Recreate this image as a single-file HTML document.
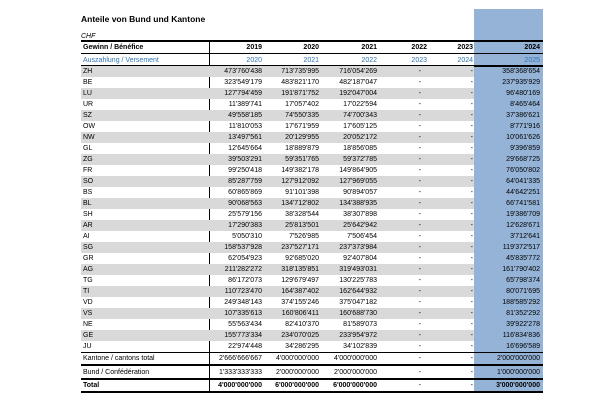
<!DOCTYPE html>
<html><head><meta charset="utf-8"><style>
body{margin:0;width:606px;height:402px;background:#fff;position:relative;overflow:hidden;font-family:"Liberation Sans",Arial,sans-serif;font-size:7px;color:#000}
.abs{position:absolute}
.blue{position:absolute;left:474px;top:9px;width:69px;height:383px;background:#95b3d7}
.r{position:absolute;left:81px;width:462px;height:11px;line-height:11px;display:flex}
.r.g{background:linear-gradient(to right,#d9d9d9 0,#d9d9d9 393px,transparent 393px)}
.r div{box-sizing:border-box;white-space:nowrap}
.c0{width:128px;padding-left:2px}
.c1{width:56px;text-align:right;padding-right:3px}
.c2{width:57px;text-align:right;padding-right:3px}
.c3{width:58px;text-align:right;padding-right:3px}
.c4{width:50px;text-align:right;padding-right:9px}
.c5{width:44px;text-align:right;padding-right:1px}
.c6{width:69px;text-align:right;padding-right:3px}
.hl{position:absolute;left:81px;width:462px;background:#000}
.bl{color:#2f75b5}
.b{font-weight:bold}
</style></head><body>
<div class="blue"></div>
<div class="abs b" style="left:81px;top:14px;font-size:8.5px">Anteile von Bund und Kantone</div>
<div class="abs" style="left:81px;top:33px;font-style:italic">CHF</div>
<div class="hl" style="top:40px;height:2px"></div>
<div class="r b" style="top:42px"><div class="c0">Gewinn / Bénéfice</div><div class="c1">2019</div><div class="c2">2020</div><div class="c3">2021</div><div class="c4" style="padding-right:3px">2022</div><div class="c5">2023</div><div class="c6">2024</div></div>
<div class="hl" style="top:53px;height:1px"></div>
<div class="r bl" style="top:55px"><div class="c0">Auszahlung / Versement</div><div class="c1">2020</div><div class="c2">2021</div><div class="c3">2022</div><div class="c4" style="padding-right:3px">2023</div><div class="c5">2024</div><div class="c6">2025</div></div>
<div class="hl" style="top:65px;height:1.5px"></div>
<div class="abs" style="left:209px;top:40px;width:1px;height:352px;background:#000"></div>
<div class="hl" style="top:352px;height:1px"></div>
<div class="r" style="top:353px"><div class="c0">Kantone / cantons total</div><div class="c1">2'666'666'667</div><div class="c2">4'000'000'000</div><div class="c3">4'000'000'000</div><div class="c4">-</div><div class="c5">-</div><div class="c6">2'000'000'000</div></div>
<div class="hl" style="top:364px;height:1.5px"></div>
<div class="r" style="top:367px"><div class="c0">Bund / Confédération</div><div class="c1">1'333'333'333</div><div class="c2">2'000'000'000</div><div class="c3">2'000'000'000</div><div class="c4">-</div><div class="c5">-</div><div class="c6">1'000'000'000</div></div>
<div class="hl" style="top:378px;height:1.5px"></div>
<div class="r b" style="top:380px"><div class="c0">Total</div><div class="c1">4'000'000'000</div><div class="c2">6'000'000'000</div><div class="c3">6'000'000'000</div><div class="c4" style="font-weight:normal">-</div><div class="c5" style="font-weight:normal">-</div><div class="c6">3'000'000'000</div></div>
<div class="hl" style="top:391px;height:2px"></div>

<div class="r g" style="top:66px"><div class="c0">ZH</div><div class="c1">473'760'438</div><div class="c2">713'735'995</div><div class="c3">716'054'269</div><div class="c4">-</div><div class="c5">-</div><div class="c6">358'368'654</div></div>
<div class="r" style="top:77px"><div class="c0">BE</div><div class="c1">323'549'179</div><div class="c2">483'821'170</div><div class="c3">482'187'047</div><div class="c4">-</div><div class="c5">-</div><div class="c6">237'935'929</div></div>
<div class="r g" style="top:88px"><div class="c0">LU</div><div class="c1">127'794'459</div><div class="c2">191'871'752</div><div class="c3">192'047'004</div><div class="c4">-</div><div class="c5">-</div><div class="c6">96'480'169</div></div>
<div class="r" style="top:99px"><div class="c0">UR</div><div class="c1">11'389'741</div><div class="c2">17'057'402</div><div class="c3">17'022'594</div><div class="c4">-</div><div class="c5">-</div><div class="c6">8'465'464</div></div>
<div class="r g" style="top:110px"><div class="c0">SZ</div><div class="c1">49'558'185</div><div class="c2">74'550'335</div><div class="c3">74'700'343</div><div class="c4">-</div><div class="c5">-</div><div class="c6">37'386'621</div></div>
<div class="r" style="top:121px"><div class="c0">OW</div><div class="c1">11'810'053</div><div class="c2">17'671'959</div><div class="c3">17'605'125</div><div class="c4">-</div><div class="c5">-</div><div class="c6">8'771'916</div></div>
<div class="r g" style="top:132px"><div class="c0">NW</div><div class="c1">13'497'561</div><div class="c2">20'129'955</div><div class="c3">20'052'172</div><div class="c4">-</div><div class="c5">-</div><div class="c6">10'061'626</div></div>
<div class="r" style="top:143px"><div class="c0">GL</div><div class="c1">12'645'664</div><div class="c2">18'889'879</div><div class="c3">18'856'085</div><div class="c4">-</div><div class="c5">-</div><div class="c6">9'396'859</div></div>
<div class="r g" style="top:154px"><div class="c0">ZG</div><div class="c1">39'503'291</div><div class="c2">59'351'765</div><div class="c3">59'372'785</div><div class="c4">-</div><div class="c5">-</div><div class="c6">29'668'725</div></div>
<div class="r" style="top:165px"><div class="c0">FR</div><div class="c1">99'250'418</div><div class="c2">149'382'178</div><div class="c3">149'864'905</div><div class="c4">-</div><div class="c5">-</div><div class="c6">76'050'802</div></div>
<div class="r g" style="top:176px"><div class="c0">SO</div><div class="c1">85'287'759</div><div class="c2">127'912'092</div><div class="c3">127'969'055</div><div class="c4">-</div><div class="c5">-</div><div class="c6">64'041'335</div></div>
<div class="r" style="top:187px"><div class="c0">BS</div><div class="c1">60'865'869</div><div class="c2">91'101'398</div><div class="c3">90'894'057</div><div class="c4">-</div><div class="c5">-</div><div class="c6">44'642'251</div></div>
<div class="r g" style="top:198px"><div class="c0">BL</div><div class="c1">90'068'563</div><div class="c2">134'712'802</div><div class="c3">134'388'935</div><div class="c4">-</div><div class="c5">-</div><div class="c6">66'741'581</div></div>
<div class="r" style="top:209px"><div class="c0">SH</div><div class="c1">25'579'156</div><div class="c2">38'328'544</div><div class="c3">38'307'898</div><div class="c4">-</div><div class="c5">-</div><div class="c6">19'386'709</div></div>
<div class="r g" style="top:220px"><div class="c0">AR</div><div class="c1">17'290'383</div><div class="c2">25'813'501</div><div class="c3">25'642'942</div><div class="c4">-</div><div class="c5">-</div><div class="c6">12'628'671</div></div>
<div class="r" style="top:231px"><div class="c0">AI</div><div class="c1">5'050'310</div><div class="c2">7'526'985</div><div class="c3">7'506'454</div><div class="c4">-</div><div class="c5">-</div><div class="c6">3'712'641</div></div>
<div class="r g" style="top:242px"><div class="c0">SG</div><div class="c1">158'537'928</div><div class="c2">237'527'171</div><div class="c3">237'373'984</div><div class="c4">-</div><div class="c5">-</div><div class="c6">119'372'517</div></div>
<div class="r" style="top:253px"><div class="c0">GR</div><div class="c1">62'054'923</div><div class="c2">92'685'020</div><div class="c3">92'407'804</div><div class="c4">-</div><div class="c5">-</div><div class="c6">45'835'772</div></div>
<div class="r g" style="top:264px"><div class="c0">AG</div><div class="c1">211'282'272</div><div class="c2">318'135'851</div><div class="c3">319'493'031</div><div class="c4">-</div><div class="c5">-</div><div class="c6">161'790'402</div></div>
<div class="r" style="top:275px"><div class="c0">TG</div><div class="c1">86'172'073</div><div class="c2">129'679'497</div><div class="c3">130'225'783</div><div class="c4">-</div><div class="c5">-</div><div class="c6">65'798'374</div></div>
<div class="r g" style="top:286px"><div class="c0">TI</div><div class="c1">110'723'470</div><div class="c2">164'387'402</div><div class="c3">162'644'932</div><div class="c4">-</div><div class="c5">-</div><div class="c6">80'071'695</div></div>
<div class="r" style="top:297px"><div class="c0">VD</div><div class="c1">249'348'143</div><div class="c2">374'155'246</div><div class="c3">375'047'182</div><div class="c4">-</div><div class="c5">-</div><div class="c6">188'585'292</div></div>
<div class="r g" style="top:308px"><div class="c0">VS</div><div class="c1">107'335'613</div><div class="c2">160'806'411</div><div class="c3">160'688'730</div><div class="c4">-</div><div class="c5">-</div><div class="c6">81'352'292</div></div>
<div class="r" style="top:319px"><div class="c0">NE</div><div class="c1">55'563'434</div><div class="c2">82'410'370</div><div class="c3">81'589'073</div><div class="c4">-</div><div class="c5">-</div><div class="c6">39'922'278</div></div>
<div class="r g" style="top:330px"><div class="c0">GE</div><div class="c1">155'773'334</div><div class="c2">234'070'025</div><div class="c3">233'954'972</div><div class="c4">-</div><div class="c5">-</div><div class="c6">116'834'836</div></div>
<div class="r" style="top:341px"><div class="c0">JU</div><div class="c1">22'974'448</div><div class="c2">34'286'295</div><div class="c3">34'102'839</div><div class="c4">-</div><div class="c5">-</div><div class="c6">16'696'589</div></div>
</body></html>
